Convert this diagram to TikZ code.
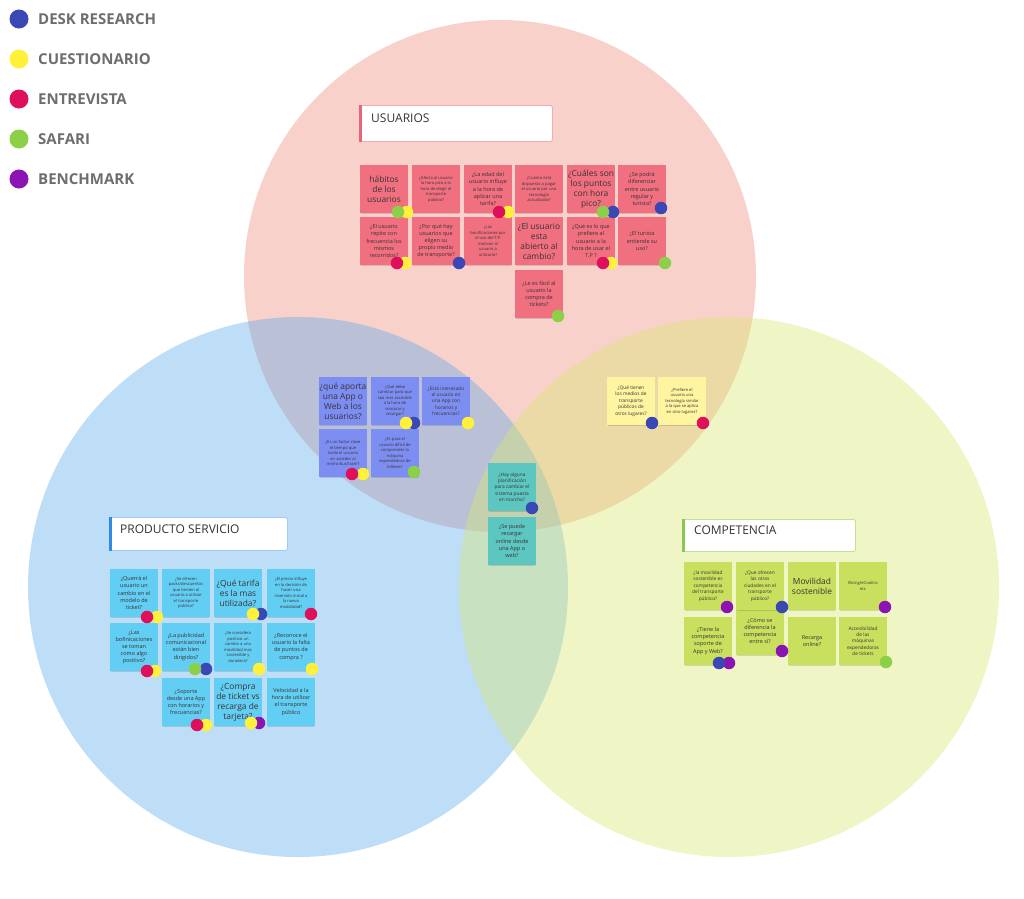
\documentclass[tikz,border=0pt]{standalone}
\usepackage{fontspec}
\setmainfont{Open Sans}
\usetikzlibrary{shadows}
\definecolor{cPinkC}{RGB}{240,140,125}
\definecolor{cBlueC}{RGB}{93,170,235}
\definecolor{cYelC}{RGB}{215,232,110}
\definecolor{sPink}{RGB}{240,112,128}
\definecolor{sPeri}{RGB}{125,142,242}
\definecolor{sYel}{RGB}{255,244,160}
\definecolor{sTeal}{RGB}{92,198,192}
\definecolor{sCyan}{RGB}{98,206,243}
\definecolor{sLime}{RGB}{200,224,94}
\definecolor{dB}{RGB}{58,72,182}
\definecolor{dY}{RGB}{255,240,60}
\definecolor{dM}{RGB}{222,16,92}
\definecolor{dG}{RGB}{140,208,74}
\definecolor{dP}{RGB}{140,20,180}
\definecolor{txt}{RGB}{58,50,52}
\definecolor{legTxt}{RGB}{110,110,110}
\definecolor{accPink}{RGB}{232,100,120}
\definecolor{accBlue}{RGB}{46,140,232}
\definecolor{accGreen}{RGB}{140,200,75}
\begin{document}
\begin{tikzpicture}[x=1pt,y=-1pt,
  sticky/.style={rectangle, minimum width=48pt, minimum height=48pt, inner sep=0pt, align=center, text=txt,
    drop shadow={shadow xshift=0pt, shadow yshift=-2pt, shadow scale=0.97, opacity=0.13, fill=black}},
  big/.style={font=\fontsize{8.4}{10}\selectfont},
  mid/.style={font=\fontsize{5.5}{7.1}\selectfont},
  msm/.style={font=\fontsize{4.8}{6.4}\selectfont},
  sml/.style={font=\fontsize{4.1}{5.5}\selectfont},
  tag/.style={circle, minimum size=12.5pt, inner sep=0pt},
  legdot/.style={circle, minimum size=19pt, inner sep=0pt},
  legtext/.style={anchor=base west, inner sep=0pt, text=legTxt, font=\fontsize{15}{17}\bfseries\selectfont},
  titlebox/.style={anchor=north west, rectangle, rounded corners=1.5pt, fill=white, line width=0.8pt, inner sep=0pt},
  titletext/.style={anchor=base west, inner sep=0pt, text=black!80, font=\fontsize{12}{14}\selectfont}
]
\useasboundingbox (0,0) rectangle (1024,898);
\fill[white] (0,0) rectangle (1024,898);

% circles
\fill[cPinkC, fill opacity=0.4] (500,276) circle[radius=256pt];
\fill[cBlueC, fill opacity=0.4] (298,587) circle[radius=270pt];
\fill[cYelC, fill opacity=0.4] (729,587) circle[radius=270pt];

% legend
\node[legdot, fill=dB] (l1) at (19,19) {};
\node[legdot, fill=dY] (l2) at (19,59) {};
\node[legdot, fill=dM] (l3) at (19,99) {};
\node[legdot, fill=dG] (l4) at (19,139) {};
\node[legdot, fill=dP] (l5) at (19,179) {};
\node[legtext] (lt1) at (38,24.5) {DESK RESEARCH};
\node[legtext] (lt2) at (38,64.5) {CUESTIONARIO};
\node[legtext] (lt3) at (38,104.5) {ENTREVISTA};
\node[legtext] (lt4) at (38,144.5) {SAFARI};
\node[legtext] (lt5) at (38,184.5) {BENCHMARK};

% title boxes
\node[titlebox, draw=accPink!55, minimum width=193pt, minimum height=36pt] (tbu) at (359,105) {};
\fill[accPink] (tbu.north west) rectangle ([xshift=3pt]tbu.south west);
\node[titletext] (ttu) at (371,122) {USUARIOS};

\node[titlebox, draw=accBlue!45, minimum width=178pt, minimum height=33pt] (tbs) at (109,517) {};
\fill[accBlue] (tbs.north west) rectangle ([xshift=3pt]tbs.south west);
\node[titletext] (tts) at (120,533) {PRODUCTO SERVICIO};

\node[titlebox, draw=accGreen!55, minimum width=173pt, minimum height=32pt] (tbc) at (682,519) {};
\fill[accGreen] (tbc.north west) rectangle ([xshift=3pt]tbc.south west);
\node[titletext] (ttc) at (694,534) {COMPETENCIA};

% USUARIOS stickies
\node[sticky, fill=sPink, big] (u1) at (384,189) {hábitos\\de los\\usuarios};
\node[sticky, fill=sPink, sml] (u2) at (436,189) {¿Afecta al usuario\\la hora pico a la\\hora de elegir el\\transporte\\público?};
\node[sticky, fill=sPink, mid] (u3) at (488,189) {¿La edad del\\usuario influye\\a la hora de\\aplicar una\\tarifa?};
\node[sticky, fill=sPink, sml] (u4) at (539,189) {¿Cuánto está\\dispuesto a pagar\\el usuario por una\\tecnología\\actualizada?};
\node[sticky, fill=sPink, big] (u5) at (591,189) {¿Cuáles son\\los puntos\\con hora\\pico?};
\node[sticky, fill=sPink, mid] (u6) at (642,189) {¿Se podrá\\diferenciar\\entre usuario\\regular y\\turista?};
\node[sticky, fill=sPink, mid] (u7) at (384,241) {¿El usuario\\repite con\\frecuencia los\\mismos\\recorridos?};
\node[sticky, fill=sPink, mid] (u8) at (436,241) {¿Por qué hay\\usuarios que\\eligen su\\propio medio\\de transporte?};
\node[sticky, fill=sPink, sml] (u9) at (488,241) {¿Las\\bonificaciones por\\el uso del T.P.\\motivan al\\usuario a\\utilizarlo?};
\node[sticky, fill=sPink, big] (u10) at (539,241) {¿El usuario\\esta\\abierto al\\cambio?};
\node[sticky, fill=sPink, mid] (u11) at (591,241) {¿Qué es lo que\\prefiere al\\usuario a la\\hora de usar el\\T.P ?};
\node[sticky, fill=sPink, mid] (u12) at (642,241) {¿El turista\\entiende su\\uso?};
\node[sticky, fill=sPink, mid] (u13) at (539,294) {¿Le es fácil al\\usuario la\\compra de\\tickets?};

% periwinkle stickies
\node[sticky, fill=sPeri, big] (p1) at (343,401) {¿qué aporta\\una App o\\Web a los\\usuarios?};
\node[sticky, fill=sPeri, sml] (p2) at (395,401) {¿Qué debe\\cambiar para que\\sea más accesible\\a la hora de\\comprar y\\recargar?};
\node[sticky, fill=sPeri, msm] (p3) at (446,401) {¿Está interesado\\el usuario en\\una App con\\horarios y\\frecuencias?};
\node[sticky, fill=sPeri, sml] (p4) at (343,453) {¿Es un factor clave\\el tiempo que\\tarda el usuario\\en acceder al\\metro/bus/tram?};
\node[sticky, fill=sPeri, sml] (p5) at (395,453) {¿Es para el\\usuario difícil de\\comprender la\\máquina\\expendedora de\\billetes?};

% yellow stickies
\node[sticky, fill=sYel, msm] (y1) at (631,401) {¿Qué tienen\\los medios de\\transporte\\públicos de\\otros lugares?};
\node[sticky, fill=sYel, sml] (y2) at (682,401) {¿Prefiere el\\usuario una\\tecnología similar\\a la que se aplica\\en otro lugares?};

% teal stickies
\node[sticky, fill=sTeal, msm] (t1) at (512,487) {¿Hay alguna\\planificación\\para cambiar el\\sistema puesta\\en marcha?};
\node[sticky, fill=sTeal, mid] (t2) at (512,541) {¿Se puede\\recargar\\online desde\\una App o\\web?};

% PRODUCTO SERVICIO stickies
\node[sticky, fill=sCyan, mid] (s1) at (134,593) {¿Querrá el\\usuario un\\cambio en el\\modelo de\\ticket?};
\node[sticky, fill=sCyan, sml] (s2) at (186,593) {¿Se ofrecen\\packs/descuentos\\que tienten al\\usuario a utilizar\\el transporte\\público?};
\node[sticky, fill=sCyan, big] (s3) at (238,593) {¿Qué tarifa\\es la mas\\utilizada?};
\node[sticky, fill=sCyan, sml] (s4) at (291,593) {¿El precio influye\\en la decisión de\\hacer una\\inversión inicial a\\la nueva\\modalidad?};
\node[sticky, fill=sCyan, mid] (s5) at (134,647) {¿Las\\bofinicaciones\\se toman\\como algo\\positivo?};
\node[sticky, fill=sCyan, mid] (s6) at (186,647) {¿La publicidad\\comunicacional\\están bien\\dirigidos?};
\node[sticky, fill=sCyan, sml] (s7) at (238,647) {¿Se considera\\positivo un\\cambio a una\\movilidad mas\\sostenible y\\duradera?};
\node[sticky, fill=sCyan, mid] (s8) at (291,647) {¿Reconoce el\\usuario la falta\\de puntos de\\compra ?};
\node[sticky, fill=sCyan, mid] (s9) at (186,702) {¿Soporte\\desde una App\\con horarios y\\frecuencias?};
\node[sticky, fill=sCyan, big] (s10) at (238,702) {¿Compra\\de ticket vs\\recarga de\\tarjeta?};
\node[sticky, fill=sCyan, mid] (s11) at (291,702) {Velocidad a la\\hora de utilizar\\el transporte\\público};

% COMPETENCIA stickies
\node[sticky, fill=sLime, mid] (c6) at (760,631) {¿Cómo se\\diferencia la\\competencia\\entre sí?};
\node[sticky, fill=sLime, msm] (c1) at (708,586) {¿la movilidad\\sostenible es\\competencia\\del transporte\\público?};
\node[sticky, fill=sLime, msm] (c2) at (760,586) {¿Que ofrecen\\las otras\\ciudades en el\\transporte\\público?};
\node[sticky, fill=sLime, big] (c3) at (812,586) {Movilidad\\sostenible};
\node[sticky, fill=sLime, sml] (c4) at (863,586) {Bicing/eCooltra\\etc};
\node[sticky, fill=sLime, mid] (c5) at (708,641) {¿Tiene la\\competencia\\soporte de\\App y Web?};
\node[sticky, fill=sLime, mid] (c7) at (812,641) {Recarga\\online?};
\node[sticky, fill=sLime, msm] (c8) at (863,641) {Accesibilidad\\de las\\máquinas\\expendedoras\\de tickets};

% tags (right one drawn first)
\node[tag, fill=dY] (u1b) at (407,212) {};
\node[tag, fill=dG] (u1a) at (398,212) {};
\node[tag, fill=dY] (u3b) at (508,212) {};
\node[tag, fill=dM] (u3a) at (499,212) {};
\node[tag, fill=dB] (u5b) at (613,212) {};
\node[tag, fill=dG] (u5a) at (603,212) {};
\node[tag, fill=dB] (u6a) at (661,208) {};
\node[tag, fill=dY] (u7b) at (405,263) {};
\node[tag, fill=dM] (u7a) at (397,263) {};
\node[tag, fill=dB] (u8a) at (459,263) {};
\node[tag, fill=dY] (u11b) at (611,263) {};
\node[tag, fill=dM] (u11a) at (603,263) {};
\node[tag, fill=dG] (u12a) at (665,263) {};
\node[tag, fill=dG] (u13a) at (558,316) {};

\node[tag, fill=dB] (p2b) at (414,423) {};
\node[tag, fill=dY] (p2a) at (406,423) {};
\node[tag, fill=dY] (p3a) at (468,423) {};
\node[tag, fill=dY] (p4b) at (363,474) {};
\node[tag, fill=dM] (p4a) at (352,474) {};
\node[tag, fill=dG] (p5a) at (414,472) {};

\node[tag, fill=dB] (y1a) at (652,423) {};
\node[tag, fill=dM] (y2a) at (703,423) {};
\node[tag, fill=dB] (t1a) at (532,508) {};

\node[tag, fill=dY] (s1b) at (157,617) {};
\node[tag, fill=dM] (s1a) at (147,617) {};
\node[tag, fill=dB] (s3b) at (261,614) {};
\node[tag, fill=dY] (s3a) at (253,614) {};
\node[tag, fill=dM] (s4a) at (311,614) {};
\node[tag, fill=dY] (s5b) at (155,671) {};
\node[tag, fill=dM] (s5a) at (147,671) {};
\node[tag, fill=dB] (s6b) at (206,669) {};
\node[tag, fill=dG] (s6a) at (195,669) {};
\node[tag, fill=dY] (s7a) at (259,669) {};
\node[tag, fill=dY] (s8a) at (312,669) {};
\node[tag, fill=dY] (s9b) at (206,725) {};
\node[tag, fill=dM] (s9a) at (197,725) {};
\node[tag, fill=dP] (s10b) at (259,723) {};
\node[tag, fill=dY] (s10a) at (251,723) {};

\node[tag, fill=dP] (c1a) at (727,607) {};
\node[tag, fill=dB] (c2a) at (782,607) {};
\node[tag, fill=dP] (c4a) at (885,607) {};
\node[tag, fill=dP] (c5b) at (729,663) {};
\node[tag, fill=dB] (c5a) at (719,663) {};
\node[tag, fill=dP] (c6a) at (782,651) {};
\node[tag, fill=dG] (c8a) at (886,662) {};
\end{tikzpicture}
\end{document}
